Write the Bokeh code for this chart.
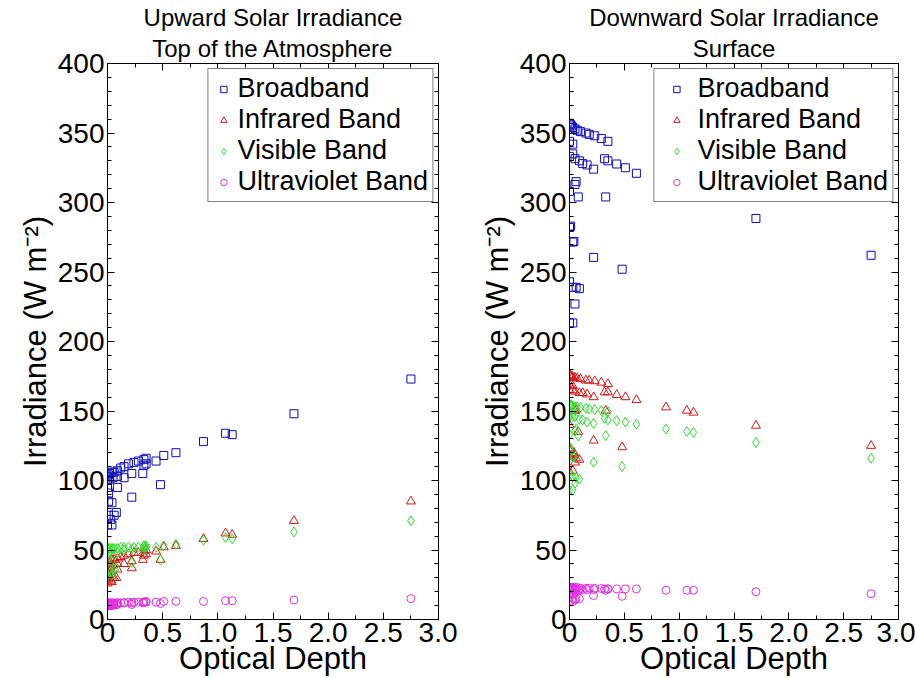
from bokeh.plotting import figure
from bokeh.models import (LinearAxis, FixedTicker, CustomJSTickFormatter, Title,
                          Legend, LegendItem, Range1d)
from bokeh.layouts import row
from bokeh.embed import file_html
from bokeh.resources import INLINE

FONT = "Liberation Sans"

band_names = ["Broadband", "Infrared Band", "Visible Band", "Ultraviolet Band"]
band_colors = ["#0c0cb4", "#d01818", "#30dd30", "#e030e0"]
band_markers = ["square", "triangle", "diamond", "circle"]
band_sizes = [8, 9, 10, 8]

x_ticks = [0, 0.5, 1.0, 1.5, 2.0, 2.5, 3.0]
x_minor = [0.25, 0.75, 1.25, 1.75, 2.25, 2.75]
y_ticks = [0, 50, 100, 150, 200, 250, 300, 350, 400]
y_minor = [v for v in range(0, 401, 10)]

# ---- Upward solar irradiance, top of the atmosphere ----
toa_tau = [0.00, 0.01, 0.02, 0.04, 0.06, 0.09, 0.12, 0.15, 0.19, 0.24, 0.28, 0.33, 0.35,
           0.44, 0.51, 0.62, 0.87, 1.07, 1.13, 1.69, 2.75,
           0.00, 0.02, 0.05, 0.09, 0.15, 0.22, 0.32, 0.33, 0.35,
           0.00, 0.01, 0.09, 0.22, 0.48,
           0.01, 0.04, 0.01, 0.06, 0.08, 0.03, 0.00, 0.04]
toa_broadband = [103, 104, 105, 106, 106, 107, 109, 110, 112, 113, 114, 115, 116,
                 114, 118, 120, 128, 134, 133, 148, 173,
                 100, 101, 102, 103, 102, 105, 105, 111, 112,
                 95, 91, 95, 88, 97,
                 85, 84, 75, 75, 77, 72, 68, 68]
toa_infrared = [40, 41, 42, 43, 43, 44, 45, 46, 47, 48, 48, 49, 50,
                49, 52, 53, 58, 62, 61, 71, 85,
                37, 38, 39, 40, 40, 42, 43, 46, 47,
                34, 32, 36, 37, 43,
                31, 31, 29, 30, 30, 28, 26, 27]
toa_visible = [51, 51, 51, 51, 51, 51, 52, 52, 52, 52, 52, 53, 53,
               52, 53, 54, 57, 59, 58, 63, 71,
               51, 51, 51, 51, 50, 51, 50, 52, 52,
               49, 48, 48, 41, 43,
               43, 42, 36, 36, 37, 34, 32, 32]
toa_ultraviolet = [12, 12, 12, 12, 12, 12, 12, 12, 12.5, 12.5, 12.5, 12.5, 13,
                   12.5, 13, 13, 13, 13.5, 13.5, 14, 15,
                   11.5, 11.5, 11.5, 12, 12, 12, 12, 12.5, 12.5,
                   11, 11, 11, 10.8, 11.5,
                   10.5, 10.5, 10, 10.5, 10.5, 10, 10, 10]

# ---- Downward solar irradiance, surface ----
sfc_tau = [0.00, 0.01, 0.02, 0.03, 0.05, 0.07, 0.10, 0.15, 0.18, 0.23, 0.29, 0.35,
           0.00, 0.03, 0.00, 0.03, 0.05, 0.09, 0.12, 0.16, 0.22, 0.32, 0.35, 0.43,
           0.51, 0.61, 0.88, 1.07, 1.13, 1.70, 2.75,
           0.00, 0.05, 0.06, 0.08, 0.33,
           0.00, 0.01, 0.03, 0.04, 0.22, 0.48,
           0.00, 0.03, 0.06, 0.09, 0.05, 0.00, 0.03]
sfc_broadband = [357, 356, 355, 354, 353, 352, 351, 350, 349, 348, 346, 344,
                 344, 342, 333, 335, 331.5, 330, 328, 327, 324, 331.5, 330, 327.7,
                 325, 321, 313, 306.4, 305, 288.5, 262,
                 308, 313, 315, 304, 304,
                 282, 283, 271.5, 272, 260.5, 252,
                 243, 239, 239, 238, 227, 213.5, 213.3]
sfc_infrared = [176, 175.5, 175, 174.5, 174, 173.5, 173, 172, 172, 171.5, 170.5, 169.5,
                169, 168, 165, 165, 164, 163, 163, 162, 160, 163.5, 163.5, 161.6,
                160, 158, 152.7, 150.3, 148.9, 139.5, 125,
                140, 150, 151, 135, 150.3,
                122, 123, 119, 120, 128.8, 124,
                118.5, 117.3, 116, 115, 113, 106.5, 107]
sfc_visible = [155, 154.5, 154, 153.5, 153, 153, 152.5, 152, 151.5, 151, 150.3, 149.6,
               149, 148, 146, 146, 146, 144, 143.6, 142, 141, 144.8, 143.6, 143,
               142, 140.5, 137, 135.2, 134.5, 127.3, 116,
               133, 135.7, 137, 132, 132.3,
               122.6, 123, 117, 117, 113.2, 110,
               104, 103, 102, 101, 98, 93, 93]
sfc_ultraviolet = [23, 23, 23, 23, 23, 23, 22.5, 22.5, 22.5, 22.5, 22.3, 22,
                   22, 22, 22, 22, 22, 21.5, 21.5, 21.5, 21.5, 22, 22, 22,
                   22, 22, 21, 21, 21, 20, 18.5,
                   21, 21, 21, 20.5, 21,
                   19, 19, 18.5, 18.5, 17.2, 16.7,
                   16, 15, 15, 15, 14, 12.5, 13]


def make_panel(line1, line2, tau, series, width, border_left, border_right, glyph_w):
    p = figure(width=width, height=678, x_range=Range1d(0, 3), y_range=Range1d(0, 400),
               output_backend="svg", toolbar_location=None, title_location=None,
               min_border_left=border_left, min_border_right=border_right,
               min_border_top=63, min_border_bottom=58)
    p.grid.visible = False
    p.outline_line_color = "black"
    p.background_fill_color = "white"
    p.border_fill_color = "white"

    p.add_layout(LinearAxis(), "right")
    p.add_layout(LinearAxis(), "above")

    xfmt = CustomJSTickFormatter(code="return tick == 0 ? '0' : tick.toFixed(1);")
    for ax in p.xaxis:
        ax.ticker = FixedTicker(ticks=x_ticks, minor_ticks=x_minor)
        ax.formatter = xfmt
    for ax in p.yaxis:
        ax.ticker = FixedTicker(ticks=y_ticks, minor_ticks=y_minor)
    for ax in list(p.xaxis) + list(p.yaxis):
        ax.axis_line_color = "black"
        ax.major_tick_line_color = "black"
        ax.minor_tick_line_color = "black"
        ax.major_tick_in = 7
        ax.major_tick_out = 0
        ax.minor_tick_in = 4
        ax.minor_tick_out = 0
        ax.major_label_text_font = FONT
        ax.major_label_text_font_size = "28px"
        ax.major_label_text_color = "black"
        ax.major_label_standoff = 3
        ax.axis_label_text_font = FONT
        ax.axis_label_text_font_size = "31px"
        ax.axis_label_text_font_style = "normal"
        ax.axis_label_text_color = "black"
    # mirror axes: ticks only, no labels
    blank = CustomJSTickFormatter(code="return '';")
    for ax in (p.right[0], p.above[0]):
        ax.formatter = blank
        ax.major_label_standoff = 0
        ax.axis_label = None

    bottom = p.below[0]
    bottom.axis_label = "Optical Depth"
    bottom.axis_label_standoff = -4
    left = p.left[0]
    left.axis_label = "Irradiance (W m\u207b\u00b2)"
    left.axis_label_standoff = 2

    p.add_layout(Title(text=line2, align="center", text_font=FONT, text_font_size="24px",
                       text_font_style="normal", text_color="black", standoff=4, offset=0), "above")
    p.add_layout(Title(text=line1, align="center", text_font=FONT, text_font_size="24px",
                       text_font_style="normal", text_color="black", standoff=0, offset=0), "above")

    items = []
    for name, color, marker, size, vals in zip(band_names, band_colors, band_markers,
                                               band_sizes, series):
        r = p.scatter(tau, vals, marker=marker, size=size, fill_color=None,
                      line_color=color, line_width=1)
        items.append(LegendItem(label=name, renderers=[r]))

    legend = Legend(items=items, location="top_right")
    legend.border_line_color = "black"
    legend.border_line_width = 1
    legend.background_fill_color = "white"
    legend.background_fill_alpha = 1
    legend.label_text_font = FONT
    legend.label_text_font_size = "27px"
    legend.label_text_color = "black"
    legend.glyph_width = glyph_w
    legend.glyph_height = 16
    legend.label_standoff = 3
    legend.label_height = 20
    legend.spacing = 0
    legend.padding = 4
    legend.margin = 5
    p.add_layout(legend)
    return p


p1 = make_panel("Upward Solar Irradiance", "Top of the Atmosphere", toa_tau,
                [toa_broadband, toa_infrared, toa_visible, toa_ultraviolet], 457, 107, 19, 22)
p2 = make_panel("Downward Solar Irradiance", "Surface", sfc_tau,
                [sfc_broadband, sfc_infrared, sfc_visible, sfc_ultraviolet], 458, 112, 17, 36)

layout = row(p1, p2)
open("out.html", "w").write(file_html(layout, INLINE))
